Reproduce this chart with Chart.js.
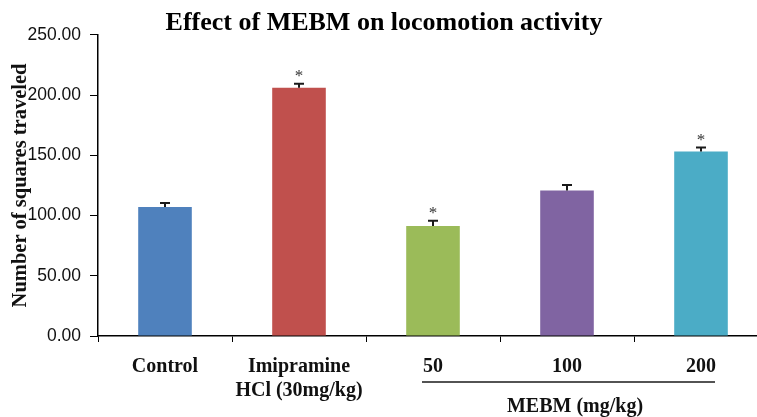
<!DOCTYPE html>
<html>
<head>
<meta charset="utf-8">
<script src="https://cdn.jsdelivr.net/npm/chart.js@4"></script>
<style>
	html, body { margin: 0; padding: 0; background: #fff; overflow: hidden; }
	#chart { display: block; }
</style>
</head>
<body>
<canvas id="chart" width="770" height="417"></canvas>
<script>
	'use strict';

	// Chart data
	const categories = ['Control', ['Imipramine', 'HCl (30mg/kg)'], '50', '100', '200'];
	const means = [107.1, 206.2, 91.4, 120.8, 153.2];
	const errors = [3.3, 3.2, 4.4, 4.6, 3.3];
	const significant = [false, true, true, false, true];
	const barColors = ['#4F81BD', '#C0504D', '#9BBB59', '#8064A2', '#4BACC6'];
	const yTicks = [0, 50, 100, 150, 200, 250];
	const groupLabel = 'MEBM (mg/kg)';
	const groupFrom = 2;
	const groupTo = 4;

	const serif = "'Liberation Serif', 'Times New Roman', serif";
	const sans = "'Liberation Sans', Arial, sans-serif";

	/**
	 * Error bars (upper half only) and significance stars
	 */
	const errorBars = {
		id: 'errorBars',
		afterDatasetsDraw(chart) {
			const ctx = chart.ctx;
			const y = chart.scales.y;
			const bars = chart.getDatasetMeta(0).data;
			ctx.save();
			ctx.strokeStyle = '#1a1a1a';
			ctx.lineWidth = 2;
			bars.forEach((bar, i) => {
				const top = y.getPixelForValue(means[i] + errors[i]);
				const base = y.getPixelForValue(means[i]);
				ctx.beginPath();
				ctx.moveTo(bar.x, base);
				ctx.lineTo(bar.x, top);
				ctx.moveTo(bar.x - 5, top);
				ctx.lineTo(bar.x + 5, top);
				ctx.stroke();
				if (significant[i]) {
					ctx.fillStyle = '#333';
					ctx.font = '17px ' + serif;
					ctx.textAlign = 'center';
					ctx.textBaseline = 'middle';
					ctx.fillText('*', bar.x, top - 7);
				}
			});
			ctx.restore();
		}
	};

	/**
	 * Bracket line under the dose labels with the group name
	 */
	const groupBracket = {
		id: 'groupBracket',
		afterDraw(chart) {
			const ctx = chart.ctx;
			const x = chart.scales.x;
			const x1 = x.getPixelForValue(groupFrom) - 11;
			const x2 = x.getPixelForValue(groupTo) + 14;
			const lineY = 382;
			ctx.save();
			ctx.strokeStyle = '#1a1a1a';
			ctx.lineWidth = 1.5;
			ctx.beginPath();
			ctx.moveTo(x1, lineY);
			ctx.lineTo(x2, lineY);
			ctx.stroke();
			ctx.fillStyle = '#111';
			ctx.font = 'bold 20px ' + serif;
			ctx.textAlign = 'center';
			ctx.textBaseline = 'middle';
			ctx.fillText(groupLabel, x.getPixelForValue(3) + 8, 407);
			ctx.restore();
		}
	};

	new Chart(document.getElementById('chart'), {
		type: 'bar',
		data: {
			labels: categories,
			datasets: [{
				data: means,
				backgroundColor: barColors,
				borderWidth: 0,
				categoryPercentage: 1,
				barPercentage: 0.4
			}]
		},
		options: {
			responsive: false,
			animation: false,
			layout: {
				padding: { top: 0, right: 2, bottom: 0, left: 0 }
			},
			plugins: {
				legend: { display: false },
				tooltip: { enabled: false },
				title: {
					display: true,
					text: 'Effect of MEBM on locomotion activity',
					color: '#000',
					font: { family: serif, size: 26, weight: 'bold', lineHeight: 0.92 },
					padding: { top: 11, bottom: 0 }
				}
			},
			scales: {
				x: {
					grid: {
						display: true,
						offset: true,
						drawOnChartArea: false,
						drawTicks: true,
						tickLength: 6,
						color: '#000'
					},
					border: { display: true, color: '#000', width: 1.5 },
					ticks: {
						color: '#111',
						padding: 13,
						maxRotation: 0,
						autoSkip: false,
						font: { family: serif, size: 20, weight: 'bold', lineHeight: 1.2 }
					},
					afterFit(scale) { scale.height = 81; }
				},
				y: {
					min: 0,
					max: 250,
					afterBuildTicks(scale) {
						scale.ticks = yTicks.map(v => ({ value: v }));
					},
					grid: {
						display: true,
						drawOnChartArea: false,
						drawTicks: true,
						tickLength: 8,
						color: '#000'
					},
					border: { display: true, color: '#000', width: 1.5 },
					ticks: {
						color: '#111',
						padding: 9,
						font: { family: sans, size: 17.5 },
						callback: v => Number(v).toFixed(2)
					},
					title: {
						display: true,
						text: 'Number of squares traveled',
						color: '#111',
						font: { family: serif, size: 20.5, weight: 'bold' },
						padding: { top: 8, bottom: 0 }
					},
					afterFit(scale) { scale.width = 98; }
				}
			}
		},
		plugins: [errorBars, groupBracket]
	});
</script>
</body>
</html>
